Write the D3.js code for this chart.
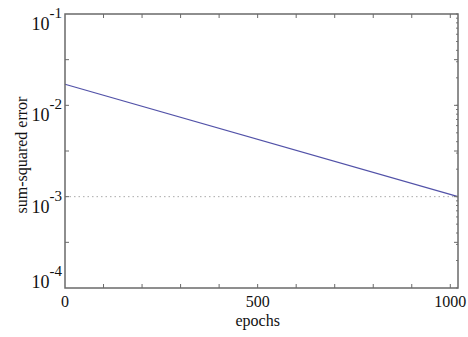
<!DOCTYPE html>
<html>
<head>
<meta charset="utf-8">
<script src="https://cdn.jsdelivr.net/npm/d3@7"></script>
<style>
  body { margin: 0; background: #fff; }
  text { font-family: "Liberation Serif", "DejaVu Serif", serif; fill: #111; }
</style>
</head>
<body>
<svg id="chart" width="468" height="337"></svg>
<script>
// training curve
const epochs = [0, 1020];
const sse = [0.017, 0.001];
const goal = 0.001;
const xTicks = [0, 500, 1000];
const yExps = [-1, -2, -3, -4];

const svg = d3.select('#chart'),
    m = {left: 65, right: 10, top: 14, bottom: 49},
    W = 468, H = 337;

const x = d3.scaleLinear().domain([0, 1020]).range([m.left, W - m.right]);
const y = d3.scaleLog().domain([1e-4, 1e-1]).range([H - m.bottom, m.top]);

const axisCol = '#6a6a6a';

// goal line
svg.append('line')
    .attr('x1', x(0)).attr('x2', x(1020))
    .attr('y1', y(goal)).attr('y2', y(goal))
    .attr('stroke', '#aaa').attr('stroke-dasharray', '1.5,3');

// error curve
svg.append('path')
    .datum(d3.zip(epochs, sse))
    .attr('fill', 'none')
    .attr('stroke', '#5252a8')
    .attr('stroke-width', 1.2)
    .attr('d', d3.line().x(d => x(d[0])).y(d => y(d[1])));

// ticks, drawn inward on all four sides
const g = svg.append('g').attr('stroke', axisCol).attr('stroke-width', 1);
d3.range(100, 1001, 100).forEach(v => {
    g.append('line').attr('x1', x(v)).attr('x2', x(v)).attr('y1', y(1e-4)).attr('y2', y(1e-4) - 4);
    g.append('line').attr('x1', x(v)).attr('x2', x(v)).attr('y1', y(1e-1)).attr('y2', y(1e-1) + 4);
});
[-1.5, -2, -2.5, -3, -3.5].forEach(e => {
    const yy = y(Math.pow(10, e));
    g.append('line').attr('x1', x(0)).attr('x2', x(0) + 4).attr('y1', yy).attr('y2', yy);
    g.append('line').attr('x1', x(1020)).attr('x2', x(1020) - 4).attr('y1', yy).attr('y2', yy);
});
// log minor ticks on the right side
y.ticks().forEach(v => {
    g.append('line').attr('x1', x(1020)).attr('x2', x(1020) - 2)
        .attr('y1', y(v)).attr('y2', y(v)).attr('stroke', '#777');
});

// frame
svg.append('rect')
    .attr('x', x(0)).attr('y', y(1e-1))
    .attr('width', x(1020) - x(0)).attr('height', y(1e-4) - y(1e-1))
    .attr('fill', 'none').attr('stroke', axisCol).attr('stroke-width', 1.5);

// y tick labels (the bottom one sits above its tick)
yExps.forEach(e => {
    const off = e === -4 ? 0 : 16;
    const t = svg.append('text')
        .attr('x', x(0) - 3).attr('y', y(Math.pow(10, e)) + off)
        .attr('text-anchor', 'end')
        .style('font-size', '18px');
    t.append('tspan').text('10');
    t.append('tspan').attr('dy', -12).style('font-size', '15px').text(e);
});

// x tick labels
xTicks.forEach(v => {
    svg.append('text')
        .attr('x', x(v)).attr('y', y(1e-4) + 19)
        .attr('text-anchor', 'middle')
        .style('font-size', '16px')
        .text(v);
});

svg.append('text')
    .attr('x', x(500)).attr('y', H - 11)
    .attr('text-anchor', 'middle')
    .style('font-size', '16px')
    .text('epochs');

svg.append('text')
    .attr('transform', `translate(27,${(y(1e-1) + y(1e-4)) / 2 + 4}) rotate(-90)`)
    .attr('text-anchor', 'middle')
    .style('font-size', '16px')
    .text('sum-squared error');
</script>
</body>
</html>
